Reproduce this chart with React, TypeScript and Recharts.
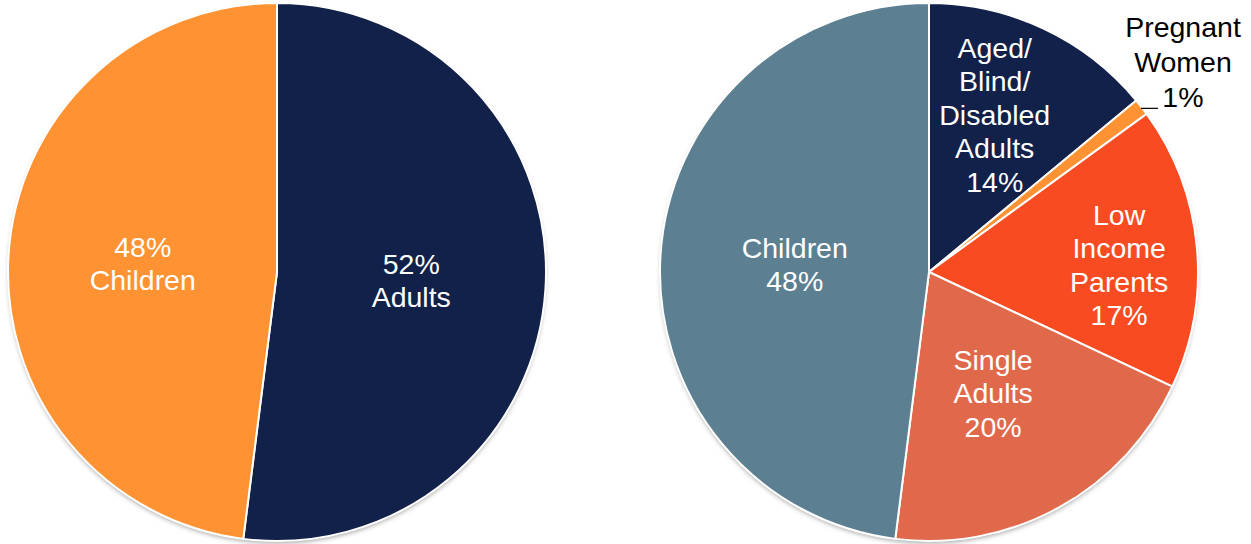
import React from 'react';
import { PieChart, Pie, Cell } from 'recharts';

const leftNames = ['Adults', 'Children'];
const leftValues = [52, 48];
const leftLabels = [['52%', 'Adults'], ['48%', 'Children']];

const rightNames = ['Aged/Blind/Disabled Adults', 'Pregnant Women', 'Low Income Parents', 'Single Adults', 'Children'];
const rightValues = [14, 1, 17, 20, 48];
const rightLabels = [
  ['Aged/', 'Blind/', 'Disabled', 'Adults', '14%'],
  ['Pregnant', 'Women', '1%'],
  ['Low', 'Income', 'Parents', '17%'],
  ['Single', 'Adults', '20%'],
  ['Children', '48%'],
];

const leftColors = ['#11214A', '#FF9232'];
const rightColors = ['#11214A', '#FF9232', '#F94B22', '#E0694B', '#5C7F92'];

const leftData = leftNames.map((n, i) => ({ name: n, value: leftValues[i] }));
const rightData = rightNames.map((n, i) => ({ name: n, value: rightValues[i] }));

const FONT = 'Liberation Sans, Arial, sans-serif';
const FS = 28.5;
const LH = 33.5;
const RAD = Math.PI / 180;

// label placement styling: radius factor and nudges
const leftPlace = [{ f: 0.5, dx: 0, dy: 0 }, { f: 0.5, dx: 0, dy: 0 }];
const rightPlace = [
  { f: 0.6, dx: -3, dy: -11 },
  { f: 1, dx: 0, dy: 0, outside: true },
  { f: 0.71, dx: 0, dy: 11 },
  { f: 0.51, dx: -2, dy: 1 },
  { f: 0.5, dx: 0, dy: 1 },
];

const makeLabel = (labels: string[][], place: any[]) => (props: any) => {
  const { cx, cy, midAngle, outerRadius, index } = props;
  const p = place[index];
  const lines = labels[index];
  const cos = Math.cos(-midAngle * RAD);
  const sin = Math.sin(-midAngle * RAD);
  if (p.outside) {
    const ex = cx + (outerRadius - 2) * cos;
    const ey = cy + (outerRadius - 2) * sin;
    const lx = ex + 17;
    const tx = ex + 43;
    const lastY = ey - 11;
    const lh = 35;
    return (
      <g key={'lbl' + index}>
        <line x1={ex + 1} y1={ey} x2={lx + 1} y2={ey} stroke="#000" strokeWidth={1.2} />
        <text x={tx} textAnchor="middle" fill="#000" fontSize={FS} fontFamily={FONT}>
          {lines.map((l, i) => (
            <tspan key={i} x={tx} y={lastY - (lines.length - 1 - i) * lh} dominantBaseline="central">{l}</tspan>
          ))}
        </text>
      </g>
    );
  }
  const r = outerRadius * p.f;
  const x = cx + r * cos + p.dx;
  const y = cy + r * sin + p.dy;
  const y0 = y - ((lines.length - 1) / 2) * LH;
  return (
    <text key={'lbl' + index} x={x} textAnchor="middle" fill="#fff" fontSize={FS} fontFamily={FONT}>
      {lines.map((l, i) => (
        <tspan key={i} x={x} y={y0 + i * LH} dominantBaseline="central">{l}</tspan>
      ))}
    </text>
  );
};

export default function App() {
  return (
    <div style={{ position: 'absolute', left: 0, top: 0, width: 1251, height: 544, background: '#fff' }}>
      <PieChart width={1251} height={544} margin={{ top: 0, right: 0, bottom: 0, left: 0 }}>
        <defs>
          <filter id="pieShadow" x="-10%" y="-10%" width="120%" height="120%">
            <feGaussianBlur stdDeviation="2.5" />
          </filter>
        </defs>
        <Pie data={[{ v: 1 }]} dataKey="v" cx={277} cy={275} outerRadius={268} stroke="none" isAnimationActive={false}>
          <Cell fill="#a0a0a0" filter="url(#pieShadow)" />
        </Pie>
        <Pie data={[{ v: 1 }]} dataKey="v" cx={929} cy={275} outerRadius={268} stroke="none" isAnimationActive={false}>
          <Cell fill="#a0a0a0" filter="url(#pieShadow)" />
        </Pie>
        <Pie
          data={leftData}
          dataKey="value"
          cx={277}
          cy={272}
          outerRadius={269}
          startAngle={90}
          endAngle={-270}
          stroke="#fff"
          strokeWidth={2}
          isAnimationActive={false}
          labelLine={false}
          label={makeLabel(leftLabels, leftPlace)}
        >
          {leftData.map((d, i) => <Cell key={i} fill={leftColors[i]} />)}
        </Pie>
        <Pie
          data={rightData}
          dataKey="value"
          cx={929}
          cy={272}
          outerRadius={269}
          startAngle={90}
          endAngle={-270}
          stroke="#fff"
          strokeWidth={2}
          isAnimationActive={false}
          labelLine={false}
          label={makeLabel(rightLabels, rightPlace)}
        >
          {rightData.map((d, i) => <Cell key={i} fill={rightColors[i]} />)}
        </Pie>
      </PieChart>
    </div>
  );
}
